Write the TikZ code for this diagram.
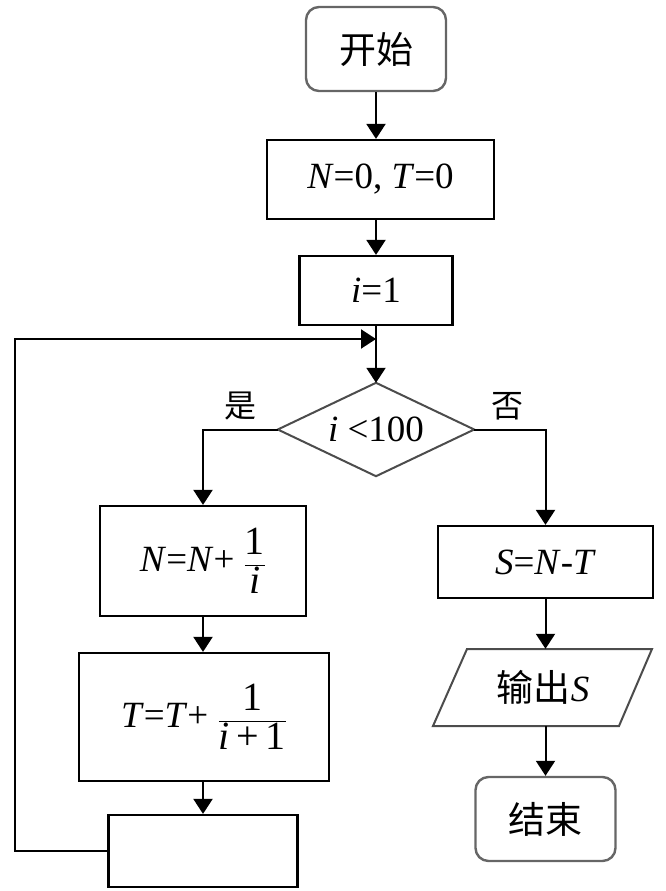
\documentclass[tikz,border=0pt]{standalone}
\usepackage{fontspec}
\setmainfont{Liberation Serif}
\newfontfamily\cjk{Noto Sans CJK SC}
\usetikzlibrary{arrows.meta}
\begin{document}
\begin{tikzpicture}[x=1pt,y=-1pt,
  box/.style={draw,line width=2.2pt,inner sep=0pt,font=\fontsize{37}{40}\selectfont},
  term/.style={draw=black!60,line width=2.4pt,rounded corners=13pt,inner sep=0pt,font=\cjk\fontsize{37}{40}\selectfont},
  shp/.style={draw=black!70,line width=2pt,line join=miter},
  txt/.style={inner sep=0pt,font=\fontsize{37}{40}\selectfont},
  arr/.style={line width=2pt,-{Triangle[length=15pt,width=19pt]}},
  lbl/.style={inner sep=0pt,font=\cjk\fontsize{32}{34}\selectfont},
  fr/.style={font=\fontsize{40}{44}\selectfont}]
\useasboundingbox (0,0) rectangle (666,891);
% left column
\node[term,minimum width=140pt,minimum height=84pt] (start) at (376,49) {开始};
\node[box,minimum width=227pt,minimum height=79pt] (init) at (380.5,179.5) {\textit{N}=0, \textit{T}=0};
\node[box,minimum width=153pt,minimum height=69pt] (i1) at (376,290.5) {\textit{i}=1};
\coordinate (join) at (376,339);
\node[txt,minimum width=196pt,minimum height=93pt] (dec) at (376,429.5) {\textit{i} <100};
\draw[shp] (dec.north) -- (dec.east) -- (dec.south) -- (dec.west) -- cycle;
\node[lbl] (yes) at (240,406) {是};
\node[lbl] (no) at (507,406) {否};
\node[box,minimum width=206pt,minimum height=110pt] (nbox) at (203,561) {\textit{N}=\textit{N}+ $\displaystyle\frac{\hbox{\fontsize{40}{44}\selectfont 1}}{\hbox{\fontsize{40}{44}\selectfont\itshape i}}$};
\node[box,minimum width=250pt,minimum height=128pt] (tbox) at (204,717) {\textit{T}=\textit{T}+ $\displaystyle\frac{\hbox{\fontsize{40}{44}\selectfont 1}}{\hbox{\fontsize{40}{44}\selectfont\itshape i\upshape\,+\,1}}$};
\node[box,minimum width=189pt,minimum height=72pt] (empty) at (203,851) {};
\coordinate (loopx) at (15,0);
% right column
\node[box,minimum width=215pt,minimum height=72pt] (sbox) at (545.5,562) {\textit{S}=\textit{N}-\textit{T}};
\node[txt,minimum height=77pt] (out) at (543,687.5) {{\cjk 输出}\textit{S}};
\draw[shp] (467,649) -- (652,649) -- (619,726) -- (433,726) -- cycle;
\node[term,minimum width=140pt,minimum height=84pt] (end) at (545.5,819) {结束};
% connectors
\draw[arr] (start.south) -- (start.south |- init.north);
\draw[arr] (init.south -| i1.south) -- (i1.north);
\draw[arr] (i1.south) -- (dec.north);
\draw[arr] (dec.west) -| (nbox.north);
\draw[arr] (nbox.south) -- (nbox.south |- tbox.north);
\draw[arr] (tbox.south -| empty.north) -- (empty.north);
\draw[arr] (empty.west) -- (empty.west -| loopx) |- (join);
\draw[arr] (dec.east) -| (sbox.north);
\draw[arr] (sbox.south) -- (sbox.south |- out.north);
\draw[arr] (sbox.south |- out.south) -- (sbox.south |- end.north);
\end{tikzpicture}
\end{document}
